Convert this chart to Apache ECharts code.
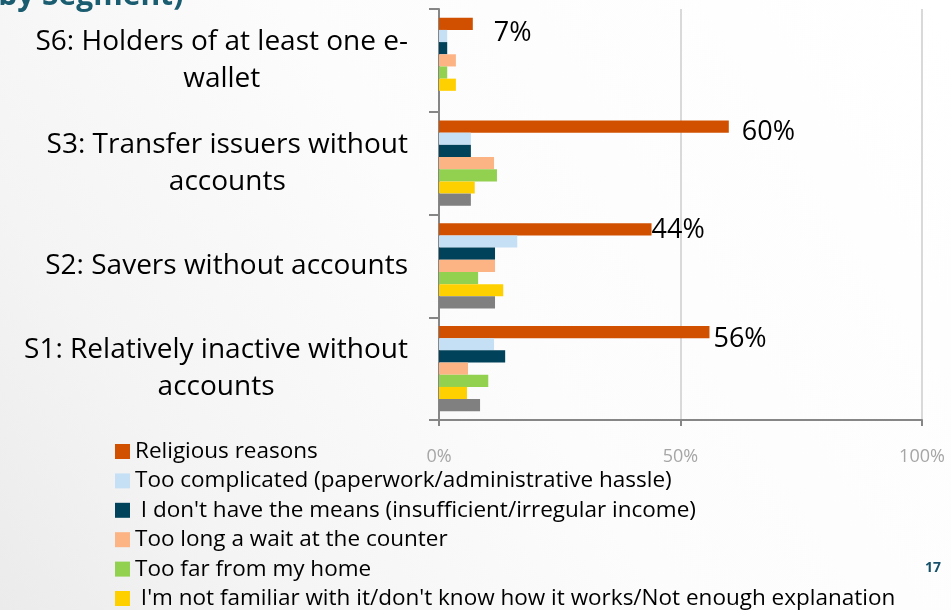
<!DOCTYPE html>
<html>
<head>
<meta charset="utf-8">
<title>Reasons for not holding an account (by Segment)</title>
<script src="https://cdn.jsdelivr.net/npm/echarts@6/dist/echarts.min.js"></script>
<style>
  html, body { margin: 0; padding: 0; background: #ffffff; }
  #chart { width: 951px; height: 610px; }
</style>
</head>
<body>
<div id="chart"></div>
<script>
// Segments, listed bottom to top along the category axis
const segments = [
  'S1: Relatively inactive without\naccounts',
  'S2: Savers without accounts',
  'S3: Transfer issuers without\naccounts',
  'S6: Holders of at least one e-\nwallet'
];

// Share of respondents (%) citing each reason, per segment (S1, S2, S3, S6)
const religiousReasons = [56, 44, 60, 7];
const tooComplicated   = [11.4, 16.2, 6.6, 1.7];
const noMeans          = [13.7, 11.6, 6.6, 1.7];
const tooLongWait      = [6.0, 11.6, 11.4, 3.5];
const tooFar           = [10.2, 8.1, 12.0, 1.7];
const notFamiliar      = [5.8, 13.3, 7.4, 3.5];
const otherReasons     = [8.5, 11.6, 6.6, 0];

const seriesNames = [
  'Religious reasons',
  'Too complicated (paperwork/administrative hassle)',
  ' I don\'t have the means (insufficient/irregular income)',
  'Too long a wait at the counter',
  'Too far from my home',
  ' I\'m not familiar with it/don\'t know how it works/Not enough explanation',
  'Other'
];
const seriesValues = [religiousReasons, tooComplicated, noMeans, tooLongWait, tooFar, notFamiliar, otherReasons];
const seriesColors = ['#D05000', '#C5E0F5', '#00425A', '#FDB485', '#92D050', '#FFD000', '#808080'];

const axisTicks = [0, 50, 100];

const FONT = "'Open Sans', 'Noto Sans', sans-serif";

// small nudges for the value labels on the "Religious reasons" bars
const labelNudge = [[4, 7], [0, 1], [13, 6], [21, 9]];

const chart = echarts.init(document.getElementById('chart'), null, { renderer: 'canvas' });

const series = seriesNames.map((name, i) => {
  const s = {
    name: name,
    type: 'bar',
    barGap: '0%',
    barCategoryGap: '17%',
    itemStyle: { color: seriesColors[i] },
    data: seriesValues[i].slice()
  };
  if (i === 0) {
    s.data = seriesValues[i].map((v, k) => ({
      value: v,
      label: { offset: labelNudge[k] }
    }));
    s.label = {
      show: true,
      position: 'right',
      distance: 0,
      formatter: p => Math.round(p.value) + '%',
      color: '#000000',
      fontFamily: FONT,
      fontSize: 27
    };
  }
  return s;
});

chart.setOption({
  animation: false,
  backgroundColor: new echarts.graphic.LinearGradient(1, 0, 0, 1, [
    { offset: 0, color: '#ffffff' },
    { offset: 0.5, color: '#fcfcfc' },
    { offset: 0.8, color: '#f4f4f4' },
    { offset: 1, color: '#ebebeb' }
  ]),
  textStyle: { fontFamily: FONT },
  grid: { left: 439, right: 29, top: 9, bottom: 190, containLabel: false },
  legend: {
    orient: 'vertical',
    left: 110,
    top: 435,
    height: 260,
    data: seriesNames.slice(0, 6),
    icon: 'rect',
    itemWidth: 15,
    itemHeight: 15,
    itemGap: 6.4,
    selectedMode: false,
    textStyle: { color: '#000000', fontFamily: FONT, fontSize: 22.5, lineHeight: 22 }
  },
  xAxis: {
    type: 'value',
    min: axisTicks[0],
    max: axisTicks[axisTicks.length - 1],
    interval: 50,
    axisLine: { show: true, lineStyle: { color: '#868686', width: 2 } },
    axisTick: { show: true, length: 6, lineStyle: { color: '#868686', width: 2 } },
    axisLabel: {
      color: '#a6a6a6',
      fontFamily: FONT,
      fontSize: 18,
      margin: 28,
      formatter: '{value}%'
    },
    splitLine: { show: true, lineStyle: { color: '#d9d9d9', width: 2 } }
  },
  yAxis: {
    type: 'category',
    data: segments,
    axisLine: { show: true, lineStyle: { color: '#868686', width: 2 } },
    axisTick: { show: true, length: 10, lineStyle: { color: '#868686', width: 2 } },
    axisLabel: {
      margin: 31,
      align: 'right',
      formatter: v => v.split('\n').map(line => '{c|' + line + '}').join('\n'),
      rich: {
        c: { align: 'center', color: '#000000', fontFamily: FONT, fontSize: 28, lineHeight: 37 }
      }
    },
    splitLine: { show: false }
  },
  graphic: [
    {
      type: 'text',
      left: -12,
      top: -19,
      style: {
        text: '(by Segment)',
        fill: '#1A5C70',
        font: 'bold 30px ' + FONT
      }
    },
    {
      type: 'text',
      left: 925,
      top: 561,
      style: {
        text: '17',
        fill: '#17506A',
        font: 'bold 14px ' + FONT
      }
    }
  ],
  series: series
});
</script>
</body>
</html>
